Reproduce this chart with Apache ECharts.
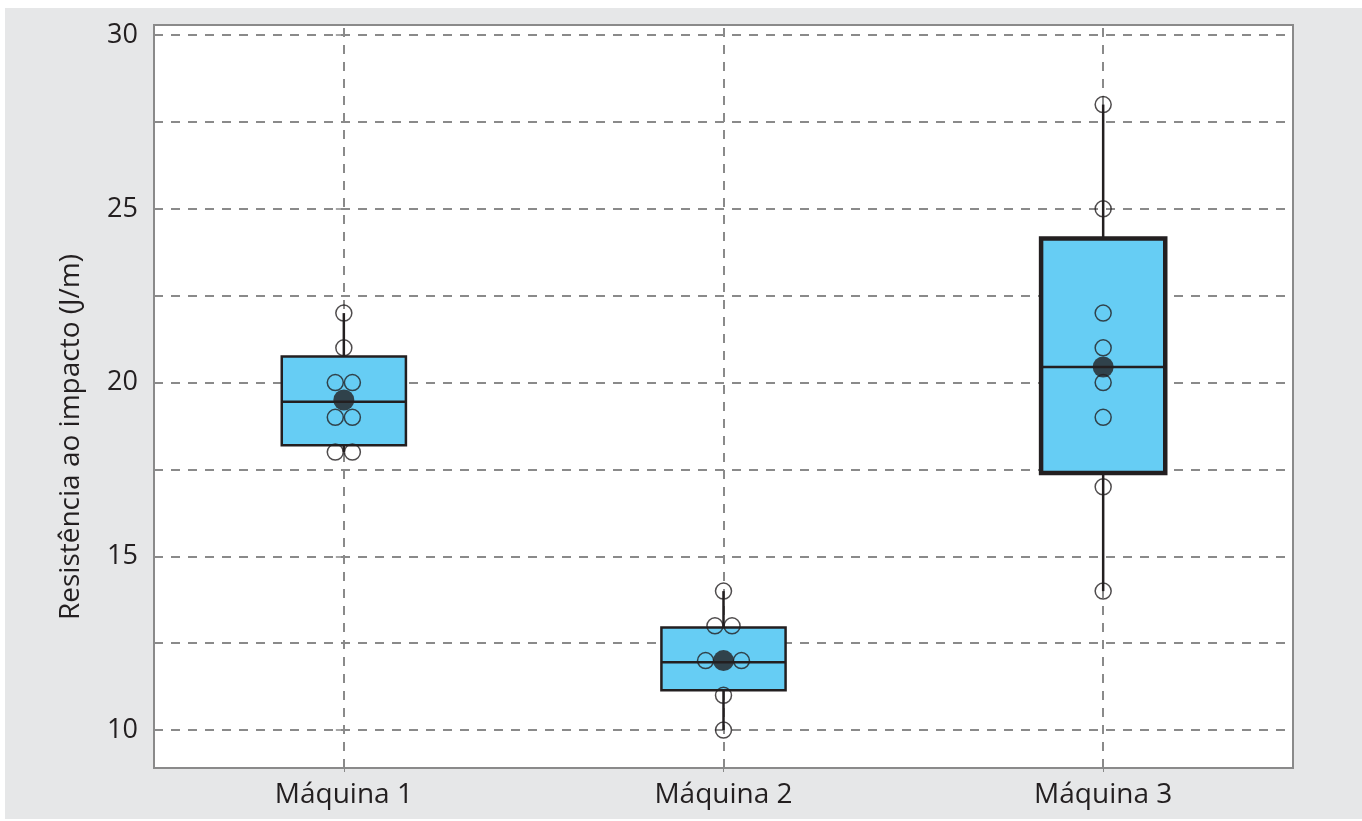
<!DOCTYPE html>
<html>
<head>
<meta charset="utf-8">
<script src="https://cdn.jsdelivr.net/npm/echarts@6/dist/echarts.min.js"></script>
<style>
  html, body { margin: 0; padding: 0; background: #ffffff; }
  #backdrop { position: absolute; left: 5px; top: 8px; width: 1357px; height: 811px; background: #e6e7e8; }
  #chart { position: absolute; left: 0; top: 0; width: 1362px; height: 821px; }
</style>
</head>
<body>
<div id="backdrop"></div>
<div id="chart"></div>
<script>
// Impact resistance per machine: box summaries, individual readings, centre markers
const categories = ['Máquina 1', 'Máquina 2', 'Máquina 3'];

// [min, Q1, median, Q3, max]
const boxStats = [
  [18, 18.2, 19.45, 20.75, 22],
  [10, 11.15, 11.95, 12.95, 14],
  [14, 17.4, 20.45, 24.15, 28]
];

const centerDots = [19.5, 12.0, 20.45];

const readingsM1 = [22, 21, 20, 20, 19, 19, 18, 18];
const readingsM2 = [14, 13, 13, 12, 12, 11, 10];
const readingsM3 = [28, 25, 22, 21, 20, 19, 17, 14];

const yTickLabels = [10, 15, 20, 25, 30];
const yGridValues = [10, 12.5, 15, 17.5, 20, 22.5, 25, 27.5, 30];

const yAxisTitle = 'Resistência ao impacto (J/m)';

// styling
const boxBorderWidths = [2.5, 2.5, 4.5];
const ink = '#231f20';
const boxFill = '#66cdf4';
const gridGray = '#8a8a8a';
const fontFamily = '"Open Sans", "Noto Sans", sans-serif';

// spread repeated readings of a machine side by side around its centre;
// readings sitting on the centre marker are pushed further out to clear it
function dodge(readings, catIndex, centre, step) {
  const counts = {};
  readings.forEach(v => { counts[v] = (counts[v] || 0) + 1; });
  const seen = {};
  return readings.map(v => {
    const n = counts[v];
    const k = seen[v] = (seen[v] || 0) + 1;
    const s = (v === centre && n > 1) ? step * 2.1 : step;
    const off = (k - 1 - (n - 1) / 2) * s;
    return [catIndex + off, v];
  });
}
const DODGE_STEP = 0.045;
const readingPoints = []
  .concat(dodge(readingsM1, 0, centerDots[0], DODGE_STEP))
  .concat(dodge(readingsM2, 1, centerDots[1], DODGE_STEP))
  .concat(dodge(readingsM3, 2, centerDots[2], DODGE_STEP));

const boxData = boxStats.map((s, i) => [i].concat(s));

const chart = echarts.init(document.getElementById('chart'), null, { renderer: 'canvas' });

chart.setOption({
  backgroundColor: 'transparent',
  animation: false,
  grid: {
    left: 154, top: 25, width: 1139, height: 743,
    show: true, backgroundColor: '#ffffff',
    borderColor: gridGray, borderWidth: 2
  },
  graphic: [{
    type: 'text',
    x: 71, y: 437,
    rotation: Math.PI / 2,
    style: {
      text: yAxisTitle,
      font: '400 28px ' + fontFamily,
      fill: ink,
      textAlign: 'center',
      textVerticalAlign: 'middle'
    }
  }],
  xAxis: [{
    type: 'category',
    data: categories,
    boundaryGap: true,
    axisLine: { show: false },
    axisTick: { show: true, alignWithLabel: true, length: 4, lineStyle: { color: gridGray, width: 1 } },
    axisLabel: { color: ink, fontSize: 28, fontFamily: fontFamily, margin: 13 },
    splitLine: { show: false }
  }, {
    type: 'value',
    min: -0.5, max: 2.5,
    show: false
  }],
  yAxis: {
    type: 'value',
    min: 8.91, max: 30.29,
    offset: 6,
    axisLine: { show: false },
    axisTick: { show: true, customValues: yTickLabels, length: 8, lineStyle: { color: gridGray, width: 1.5 } },
    axisLabel: { customValues: yTickLabels, color: ink, fontSize: 27, fontFamily: fontFamily, margin: 10 },
    splitLine: { show: false }
  },
  series: [
    {
      // dashed reference grid
      type: 'line',
      data: [],
      silent: true,
      z: 1,
      markLine: {
        z: 1,
        silent: true,
        symbol: 'none',
        label: { show: false },
        lineStyle: { color: gridGray, width: 2, type: [9, 8] },
        data: yGridValues.map(v => ({ yAxis: v }))
          .concat(categories.map(c => ({ xAxis: c })))
      }
    },
    {
      type: 'custom',
      z: 3,
      xAxisIndex: 0,
      data: boxData,
      encode: { x: 0, y: [1, 2, 3, 4, 5] },
      renderItem: function (params, api) {
        const idx = api.value(0);
        const pMin = api.coord([idx, api.value(1)]);
        const pQ1 = api.coord([idx, api.value(2)]);
        const pMed = api.coord([idx, api.value(3)]);
        const pQ3 = api.coord([idx, api.value(4)]);
        const pMax = api.coord([idx, api.value(5)]);
        const band = api.size([1, 0])[0];
        const w = band * 0.327;
        const cx = pMed[0];
        const bw = boxBorderWidths[params.dataIndex];
        return {
          type: 'group',
          children: [
            { type: 'line', shape: { x1: cx, y1: pQ3[1], x2: cx, y2: pMax[1] }, style: { stroke: ink, lineWidth: 2.5 } },
            { type: 'line', shape: { x1: cx, y1: pQ1[1], x2: cx, y2: pMin[1] }, style: { stroke: ink, lineWidth: 2.5 } },
            {
              type: 'rect',
              shape: { x: cx - w / 2, y: pQ3[1], width: w, height: pQ1[1] - pQ3[1] },
              style: { fill: boxFill, stroke: ink, lineWidth: bw }
            },
            { type: 'line', shape: { x1: cx - w / 2, y1: pMed[1], x2: cx + w / 2, y2: pMed[1] }, style: { stroke: ink, lineWidth: 2.5 } }
          ]
        };
      }
    },
    {
      type: 'scatter',
      xAxisIndex: 1,
      z: 4,
      symbol: 'circle',
      symbolSize: 16,
      itemStyle: { color: 'rgba(0,0,0,0)', borderColor: ink, borderWidth: 1.5 },
      data: readingPoints
    },
    {
      type: 'scatter',
      xAxisIndex: 1,
      z: 5,
      symbol: 'circle',
      symbolSize: 21,
      itemStyle: { color: ink },
      data: centerDots.map((v, i) => [i, v])
    }
  ]
});
</script>
</body>
</html>
